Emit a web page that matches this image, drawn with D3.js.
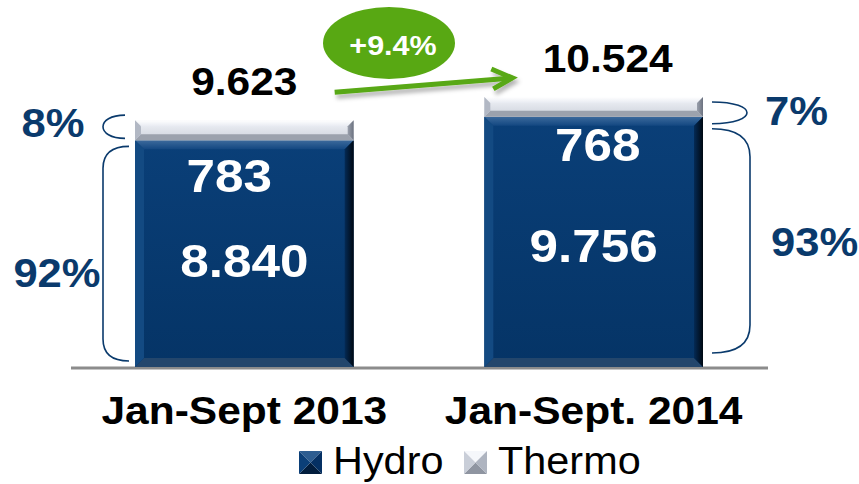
<!DOCTYPE html>
<html>
<head>
<meta charset="utf-8">
<script src="https://cdn.jsdelivr.net/npm/d3@7"></script>
<style>
  html, body { margin: 0; padding: 0; background: #fff; }
  svg text { font-family: "Liberation Sans", Arial, sans-serif; }
</style>
</head>
<body>
<svg id="chart" width="859" height="484"></svg>
<script>
// data
const categories = ["Jan-Sept 2013", "Jan-Sept. 2014"];
const hydro = [8840, 9756];
const thermo = [783, 768];
const seriesNames = ["Hydro", "Thermo"];

const svg = d3.select("#chart");
const navy = "#0A3A6C";
const green = "#58A813";
const stretch = "scale(1.09,1)";

const ptLocale = d3.formatLocale({ decimal: ",", thousands: ".", grouping: [3], currency: ["", ""] });
const fmtNum = ptLocale.format(",d");
const fmtGrowth = d3.format("+.1%");

const totals = hydro.map((h, i) => h + thermo[i]);

const x = d3.scaleBand().domain(categories).range([135, 703]).paddingInner(0.374).paddingOuter(0);
const y = d3.scaleLinear().domain([0, 10600]).range([368, 95]);

// gradients
const defs = svg.append("defs");
function linGrad(id, x2, y2, stops) {
    const g = defs.append("linearGradient").attr("id", id)
        .attr("x1", 0).attr("y1", 0).attr("x2", x2).attr("y2", y2);
    stops.forEach(s => g.append("stop").attr("offset", s[0]).attr("stop-color", s[1]));
}
linGrad("hyFace", 0, 1, [[0, "#0A3F78"], [1, "#053466"]]);
linGrad("hyRight", 1, 0, [[0, "#042A55"], [1, "#000812"]]);
linGrad("hyTop", 0, 1, [[0, "#3C6A9C"], [1, "#134781"]]);
linGrad("thFace", 0, 1, [[0, "#F2F4F8"], [1, "#CDD2DC"]]);
linGrad("thRight", 1, 0, [[0, "#9AA0AC"], [1, "#6C7280"]]);
linGrad("thTop", 0, 1, [[0, "#FFFFFF"], [1, "#E8EBF2"]]);

const shadow = defs.append("filter").attr("id", "shadow")
    .attr("x", "-20%").attr("y", "-50%").attr("width", "140%").attr("height", "200%");
shadow.append("feDropShadow").attr("dx", 2).attr("dy", 4).attr("stdDeviation", 2)
    .attr("flood-color", "#000").attr("flood-opacity", 0.3);

const styles = {
    hydro: { face: "url(#hyFace)", top: "url(#hyTop)", left: "#134A82", right: "url(#hyRight)", bottom: "#23466C" },
    thermo: { face: "url(#thFace)", top: "url(#thTop)", left: "#B2B8C4", right: "url(#thRight)", bottom: "#9CA2AD" }
};

function bevelRect(g, x0, y0, w, h, b, st) {
    g.append("rect").attr("x", x0).attr("y", y0).attr("width", w).attr("height", h).attr("fill", st.face);
    const polys = [
        [[x0, y0], [x0 + w, y0], [x0 + w - b, y0 + b], [x0 + b, y0 + b], st.top],
        [[x0, y0 + h], [x0 + w, y0 + h], [x0 + w - b, y0 + h - b], [x0 + b, y0 + h - b], st.bottom],
        [[x0, y0], [x0 + b, y0 + b], [x0 + b, y0 + h - b], [x0, y0 + h], st.left],
        [[x0 + w, y0], [x0 + w - b, y0 + b], [x0 + w - b, y0 + h - b], [x0 + w, y0 + h], st.right]
    ];
    polys.forEach(p => {
        g.append("polygon").attr("points", p.slice(0, 4).map(d => d.join(",")).join(" ")).attr("fill", p[4]);
    });
}

function txt(g, px, py, str, size, opts = {}) {
    return g.append("text")
        .attr("transform", `translate(${px},${py}) ${stretch}`)
        .attr("text-anchor", opts.anchor || "middle")
        .attr("font-size", size)
        .attr("font-weight", opts.weight || "bold")
        .attr("fill", opts.fill || "#000")
        .text(str);
}

// baseline
svg.append("line").attr("x1", 71).attr("x2", 768).attr("y1", y(0)).attr("y2", y(0))
    .attr("stroke", "#8C8C8C").attr("stroke-width", 3);

// bars
const bars = svg.append("g");
categories.forEach((c, i) => {
    const bx = x(c), bw = x.bandwidth();
    bevelRect(bars, bx, y(hydro[i]), bw, y(0) - y(hydro[i]) - 1, 9, styles.hydro);
    bevelRect(bars, bx, y(totals[i]), bw, y(hydro[i]) - y(totals[i]), 6, styles.thermo);
});

// value labels
const topDx = [-15, 4];
const topDy = [52, 44];
const hydroDy = [137, 145];
categories.forEach((c, i) => {
    const cx = x(c) + x.bandwidth() / 2;
    txt(svg, cx + (i === 0 ? 0 : 14), y(totals[i]) - 25, fmtNum(totals[i]), 39);
    txt(svg, cx + topDx[i], y(hydro[i]) + topDy[i], fmtNum(thermo[i]), 47, { fill: "#fff" });
    txt(svg, cx, y(hydro[i]) + hydroDy[i], fmtNum(hydro[i]), 47, { fill: "#fff" });
});

// braces + shares
const braces = svg.append("g").attr("fill", "none").attr("stroke", navy).attr("stroke-width", 1.6);
function bracket(xEdge, xOut, y1, y2, r) {
    if (r === null) {
        const cx = xEdge + (xOut - xEdge) / 0.75;
        return `M${xEdge},${y1} C${cx},${y1} ${cx},${y2} ${xEdge},${y2}`;
    }
    return `M${xEdge},${y1} Q${xOut},${y1} ${xOut},${y1 + r} L${xOut},${y2 - r} Q${xOut},${y2} ${xEdge},${y2}`;
}
// bar 0, left side
const b0 = x(categories[0]);
braces.append("path").attr("d", bracket(b0 - 10, b0 - 32, y(totals[0]) - 5, y(hydro[0]) - 2, null));
braces.append("path").attr("d", bracket(b0 - 6, b0 - 32, y(hydro[0]) + 6, y(0) - 7, 22));
// bar 1, right side
const b1 = x(categories[1]) + x.bandwidth();
braces.append("path").attr("d", bracket(b1 + 9, b1 + 44, y(totals[1]) + 5, y(hydro[1]) + 7, null));
braces.append("path").attr("d", bracket(b1 + 9, b1 + 47, y(hydro[1]) + 12, y(0) - 15, 28));

const pct = v => Math.round(v * 100) + "%";
txt(svg, 53, y(hydro[0]) - 3, pct(thermo[0] / totals[0]), 40, { fill: navy });
txt(svg, 57, 287, pct(hydro[0] / totals[0]), 40, { fill: navy });
txt(svg, 765, y(hydro[1]) + 8, pct(thermo[1] / totals[1]), 40, { fill: navy, anchor: "start" });
txt(svg, 771, 256, pct(hydro[1] / totals[1]), 40, { fill: navy, anchor: "start" });

// growth arrow and bubble
const growth = totals[1] / totals[0] - 1;
const arrow = svg.append("g").attr("filter", "url(#shadow)")
    .attr("stroke", green).attr("stroke-width", 5).attr("fill", "none");
const ax1 = b0 + x.bandwidth() - 19, ay1 = y(totals[0]) - 28;
const ax2 = x(categories[1]) + 28, ay2 = y(totals[1]) - 19;
arrow.append("line").attr("x1", ax1).attr("y1", ay1).attr("x2", ax2).attr("y2", ay2);
arrow.append("polyline").attr("points", `${ax2 - 21},${ay2 - 9} ${ax2},${ay2} ${ax2 - 19},${ay2 + 11}`)
    .attr("stroke-linejoin", "miter");

svg.append("ellipse").attr("cx", 389).attr("cy", 43).attr("rx", 66).attr("ry", 36).attr("fill", green);
txt(svg, 393, 55, fmtGrowth(growth), 28, { fill: "#fff" });

// category axis
const axis = svg.append("g").attr("transform", `translate(0,${y(0)})`)
    .call(d3.axisBottom(x).tickSize(0).tickPadding(0));
axis.select(".domain").remove();
axis.selectAll("text")
    .attr("y", 56).attr("dy", null)
    .attr("transform", stretch)
    .attr("font-size", 39).attr("font-weight", "bold").attr("fill", "#000")
    .attr("font-family", "'Liberation Sans', Arial, sans-serif");

// legend
const legend = svg.append("g");
const legendX = [299, 464];
seriesNames.forEach((name, i) => {
    const fills = i === 0
        ? ["#2D5D91", "#021D3D", "#0B3F78", "#053063"]
        : ["#F5F7FB", "#8F95A1", "#C9CED8", "#AEB4C0"];
    const lx = legendX[i], ly = 451, s = 23, c = s / 2;
    const tris = [
        [[lx, ly], [lx + s, ly], [lx + c, ly + c]],
        [[lx, ly + s], [lx + s, ly + s], [lx + c, ly + c]],
        [[lx, ly], [lx, ly + s], [lx + c, ly + c]],
        [[lx + s, ly], [lx + s, ly + s], [lx + c, ly + c]]
    ];
    tris.forEach((t, j) => legend.append("polygon").attr("points", t.map(d => d.join(",")).join(" ")).attr("fill", fills[j]));
    txt(legend, lx + 34, 474, name, 38, { anchor: "start", weight: "normal" });
});
</script>
</body>
</html>
